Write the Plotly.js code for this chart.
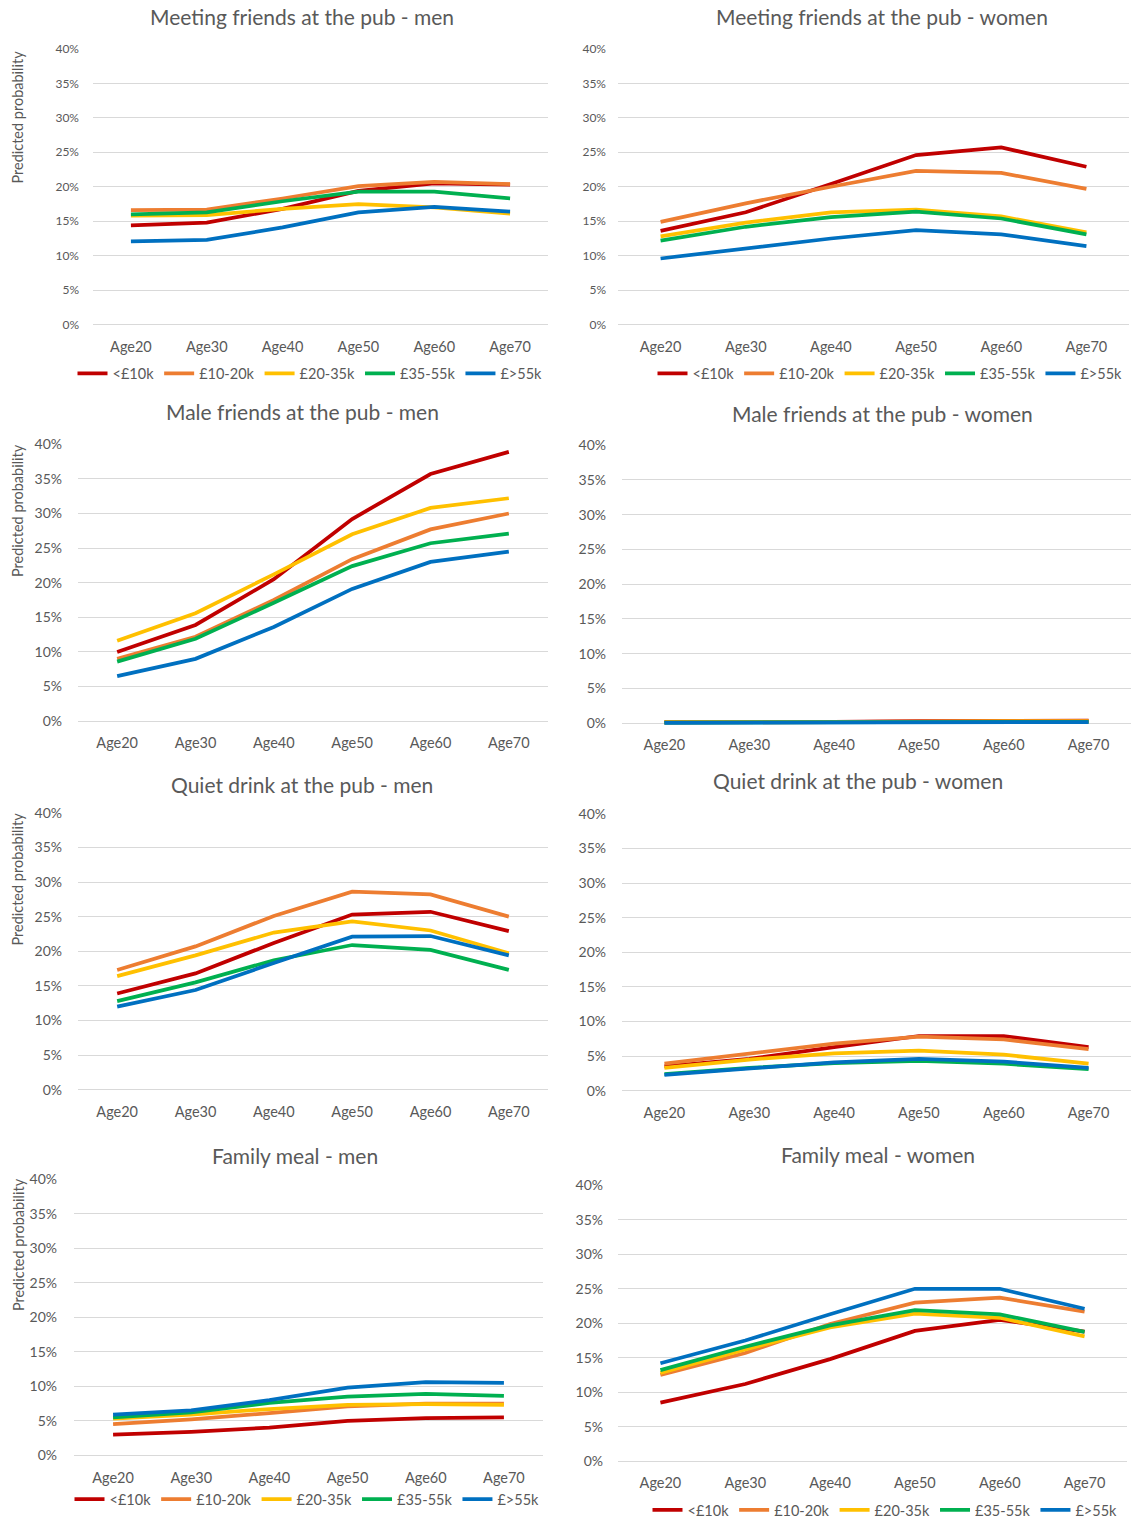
<!DOCTYPE html>
<html>
<head>
<meta charset="utf-8">
<script src="https://cdn.plot.ly/plotly-3.0.1.min.js"></script>
<style>html,body{margin:0;padding:0;background:#fff;}#chart{width:1131px;height:1526px;}</style>
</head>
<body>
<div id="chart"></div>
<script>
// ---- data ----
const ages = ["Age20", "Age30", "Age40", "Age50", "Age60", "Age70"];
const incomeGroups = ["<£10k", "£10-20k", "£20-35k", "£35-55k", "£>55k"];
const yTicks = [0, 0.05, 0.10, 0.15, 0.20, 0.25, 0.30, 0.35, 0.40];
const yTickLabels = ["0%", "5%", "10%", "15%", "20%", "25%", "30%", "35%", "40%"];
const panelTitles = [
  "Meeting friends at the pub - men", "Meeting friends at the pub - women",
  "Male friends at the pub - men", "Male friends at the pub - women",
  "Quiet drink at the pub - men", "Quiet drink at the pub - women",
  "Family meal - men", "Family meal - women"
];
const yAxisTitle = "Predicted probability";

// values in percent, order: <£10k, £10-20k, £20-35k, £35-55k, £>55k
const meetingMen = [
  [14.4, 14.8, 16.8, 19.4, 20.5, 20.3],
  [16.6, 16.7, 18.3, 20.1, 20.7, 20.4],
  [15.8, 15.9, 16.8, 17.5, 17.0, 16.1],
  [16.0, 16.3, 17.9, 19.3, 19.3, 18.3],
  [12.1, 12.3, 14.1, 16.3, 17.1, 16.4]
];
const meetingWomen = [
  [13.6, 16.3, 20.4, 24.6, 25.7, 22.9],
  [14.9, 17.6, 20.0, 22.3, 22.0, 19.7],
  [12.8, 14.8, 16.3, 16.7, 15.7, 13.4],
  [12.2, 14.2, 15.6, 16.4, 15.4, 13.1],
  [9.6, 11.0, 12.5, 13.7, 13.1, 11.4]
];
const maleFriendsMen = [
  [10.0, 13.9, 20.5, 29.2, 35.7, 38.9],
  [9.0, 12.2, 17.5, 23.4, 27.7, 30.0],
  [11.6, 15.6, 21.2, 27.0, 30.8, 32.2],
  [8.6, 11.9, 17.1, 22.4, 25.7, 27.1],
  [6.5, 9.0, 13.6, 19.1, 23.0, 24.5]
];
const maleFriendsWomen = [
  [0.15, 0.15, 0.2, 0.3, 0.35, 0.35],
  [0.1, 0.1, 0.15, 0.25, 0.3, 0.3],
  [0.1, 0.1, 0.15, 0.2, 0.25, 0.25],
  [0.08, 0.08, 0.12, 0.18, 0.2, 0.2],
  [0.05, 0.05, 0.1, 0.15, 0.15, 0.15]
];
const quietMen = [
  [13.9, 16.8, 21.2, 25.3, 25.7, 22.9],
  [17.3, 20.7, 25.1, 28.6, 28.2, 25.0],
  [16.4, 19.4, 22.7, 24.3, 23.0, 19.7],
  [12.8, 15.5, 18.7, 20.9, 20.2, 17.3],
  [12.0, 14.4, 18.3, 22.1, 22.2, 19.4]
];
const quietWomen = [
  [3.5, 4.6, 6.3, 7.9, 7.9, 6.3],
  [3.9, 5.3, 6.8, 7.8, 7.4, 6.0],
  [3.3, 4.5, 5.4, 5.8, 5.2, 3.9],
  [2.4, 3.3, 4.0, 4.3, 3.9, 3.1],
  [2.3, 3.2, 4.1, 4.6, 4.2, 3.3]
];
const familyMen = [
  [3.0, 3.4, 4.0, 5.0, 5.4, 5.5],
  [4.5, 5.2, 6.1, 7.1, 7.5, 7.5],
  [5.3, 5.9, 6.7, 7.3, 7.4, 7.3],
  [5.5, 6.2, 7.6, 8.5, 8.9, 8.6],
  [5.9, 6.5, 8.0, 9.8, 10.6, 10.5]
];
const familyWomen = [
  [8.5, 11.2, 14.8, 18.9, 20.5, 18.8],
  [12.5, 15.7, 19.9, 23.0, 23.7, 21.7],
  [12.8, 16.2, 19.4, 21.4, 20.8, 18.1],
  [13.2, 16.6, 19.7, 21.9, 21.3, 18.75],
  [14.2, 17.5, 21.3, 25.0, 25.0, 22.1]
];

// ---- styling / layout (pixels) ----
const colors = ["#C00000", "#ED7D31", "#FFC000", "#00B050", "#0070C0"];
const W = 1131, H = 1526;
const panelData = [meetingMen, meetingWomen, maleFriendsMen, maleFriendsWomen, quietMen, quietWomen, familyMen, familyWomen];
const boxes = [
  {l: 93, r: 548, t: 49, b: 326, tx: 302, ty: 17, ts: 12, so: 13, leg: [310, 375], yt: 118},
  {l: 618, r: 1129, t: 49, b: 326, tx: 882, ty: 17, ts: 12, so: 11, leg: [890, 375], yt: null},
  {l: 78, r: 548, t: 446, b: 724, tx: 302, ty: 413, ts: 14, so: 15, leg: null, yt: 513},
  {l: 622, r: 1131, t: 447, b: 726, tx: 882, ty: 415, ts: 14, so: 15, leg: null, yt: null},
  {l: 78, r: 548, t: 816, b: 1094, tx: 302, ty: 788, ts: 14, so: 15, leg: null, yt: 883},
  {l: 622, r: 1131, t: 817, b: 1095, tx: 858, ty: 784, ts: 14, so: 15, leg: null, yt: null},
  {l: 74, r: 543, t: 1184, b: 1461, tx: 295, ty: 1160, ts: 14, so: 16, leg: [307, 1505], yt: 1250},
  {l: 618, r: 1127, t: 1190, b: 1467, tx: 878, ty: 1159, ts: 14, so: 14, leg: [885, 1516], yt: null}
];

const FONT = "Lato, 'Open Sans', sans-serif";
const TXT = "#595959";
const yMin = -0.004;
const traces = [];
const layout = {
  width: W, height: H,
  margin: {l: 0, r: 0, t: 0, b: 0},
  paper_bgcolor: "#ffffff", plot_bgcolor: "#ffffff",
  font: {family: FONT, color: TXT},
  showlegend: true,
  annotations: []
};
let legendCount = 0;
boxes.forEach((bx, i) => {
  const n = i + 1;
  const xa = "xaxis" + (n === 1 ? "" : n), ya = "yaxis" + (n === 1 ? "" : n);
  const xr = "x" + (n === 1 ? "" : n), yr = "y" + (n === 1 ? "" : n);
  const pxPerUnit = (bx.b - bx.t) / 0.4;
  const bottomPx = bx.b + (-yMin) * pxPerUnit;
  layout[xa] = {
    domain: [bx.l / W, bx.r / W], anchor: yr,
    type: "category", categoryorder: "array", categoryarray: ages,
    range: [-0.5, 5.5], showgrid: false, zeroline: false, showline: false,
    ticks: "", tickfont: {size: 14.5, color: TXT, family: FONT}, ticklabelstandoff: 9,
    fixedrange: true
  };
  layout[ya] = {
    domain: [1 - bottomPx / H, 1 - bx.t / H], anchor: xr,
    range: [yMin, 0.4], tickvals: yTicks, ticktext: yTickLabels,
    showgrid: true, gridcolor: "#d9d9d9", gridwidth: 1, zeroline: false, showline: false,
    ticks: "", tickfont: {size: bx.ts, color: TXT, family: FONT}, ticklabelstandoff: bx.so,
    fixedrange: true
  };
  let legName = null;
  if (bx.leg) {
    legendCount++;
    legName = "legend" + (legendCount === 1 ? "" : legendCount);
    layout[legName] = {
      orientation: "h", x: bx.leg[0] / W, y: 1 - bx.leg[1] / H,
      xanchor: "center", yanchor: "middle", bgcolor: "rgba(0,0,0,0)",
      font: {size: 14.5, color: TXT, family: FONT}, itemwidth: 30, tracegroupgap: 0,
      traceorder: "normal"
    };
  }
  panelData[i].forEach((series, k) => {
    traces.push({
      type: "scatter", mode: "lines", x: ages, y: series.map(v => v / 100),
      name: incomeGroups[k], xaxis: xr, yaxis: yr,
      line: {color: colors[k], width: 3.75},
      showlegend: !!legName, legend: legName || "legend",
      hoverinfo: "skip"
    });
  });
  layout.annotations.push({
    text: panelTitles[i], xref: "paper", yref: "paper",
    x: bx.tx / W, y: 1 - bx.ty / H, xanchor: "center", yanchor: "middle",
    showarrow: false, font: {size: 21, color: TXT, family: FONT}
  });
  if (bx.yt) {
    layout.annotations.push({
      text: yAxisTitle, xref: "paper", yref: "paper",
      x: 18 / W, y: 1 - bx.yt / H, xanchor: "center", yanchor: "middle",
      textangle: -90, showarrow: false, font: {size: 14.5, color: TXT, family: FONT}
    });
  }
});

Plotly.newPlot("chart", traces, layout, {displayModeBar: false, staticPlot: true});
</script>
</body>
</html>
